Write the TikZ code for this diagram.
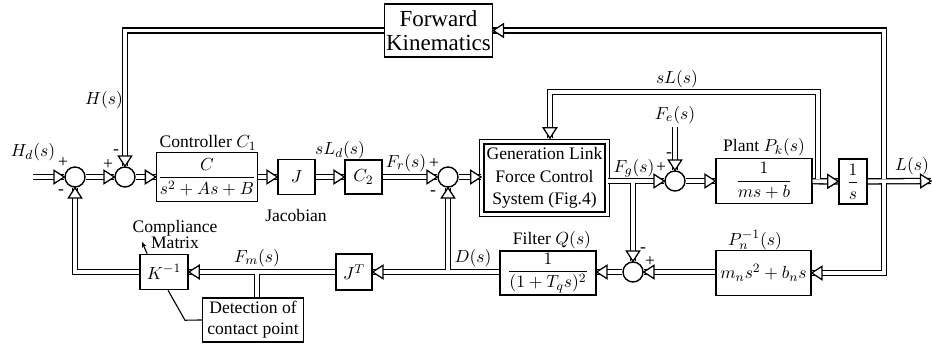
\documentclass[tikz,border=0pt]{standalone}
\usepackage{fontspec}
\setmainfont{Liberation Serif}
\usetikzlibrary{arrows.meta,decorations.markings}

\begin{document}
\begin{tikzpicture}[x=0.022cm, y=-0.022cm, font=\fontsize{11pt}{13pt}\selectfont]
  \tikzstyle{block}=[rectangle, draw, line width=0.9pt, inner sep=1pt, fill=white]
  \tikzstyle{sum}=[circle, draw, line width=0.9pt, minimum size=0.44cm, inner sep=0pt]
  \tikzstyle{lbl}=[inner sep=1pt]
  \tikzstyle{sig}=[postaction={draw, double, double distance=2.4pt, line width=0.8pt},
    postaction={decorate, decoration={markings, mark=at position 1 with
      {\draw[line width=0.8pt, fill=white] (0,0) -- (-6.5pt,4.2pt) -- (-6.5pt,-4.2pt) -- cycle;}}}]
  \tikzstyle{pipe}=[draw, double, double distance=2.4pt, line width=0.8pt]
  \tikzstyle{wire}=[draw, line width=0.7pt]

  \useasboundingbox (0,0) rectangle (932,347);

  \node[block, minimum width=2.35cm, minimum height=1.17cm, align=center, font=\Large] (fk) at (438.5,30.5) {Forward\\[-3pt]Kinematics};

  \node[sum] (s1) at (75,177) {};
  \node[sum] (s2) at (125,177) {};
  \node[block, minimum width=2.2cm, minimum height=1.08cm] (ctrl) at (207,177) {$\displaystyle\frac{C}{s^2+As+B}$};
  \node[block, minimum width=0.81cm, minimum height=0.77cm] (jac) at (296.5,177) {$J$};
  \node[block, minimum width=0.81cm, minimum height=0.74cm] (c2) at (363.5,177) {$C_2$};
  \node[sum] (s3) at (448,177) {};
  \node[block, double, double distance=2pt, minimum width=2.76cm, minimum height=1.6cm, align=center] (gen) at (544.5,178) {Generation Link\\[1pt]Force Control\\[1pt]System (Fig.4)};
  \node[sum] (s4) at (675,181) {};
  \node[block, minimum width=2.11cm, minimum height=0.99cm] (plant) at (764,181) {$\displaystyle\frac{1}{ms+b}$};
  \node[block, minimum width=0.62cm, minimum height=0.99cm, inner sep=0pt] (integ) at (853,181.5) {$\displaystyle\frac{1}{s}$};

  \node[block, minimum width=1.06cm, minimum height=0.77cm] (kinv) at (164,272) {$K^{-1}$};
  \node[block, minimum width=0.79cm, minimum height=0.79cm] (jt) at (354,272) {$J^T$};
  \node[block, minimum width=2.11cm, minimum height=0.97cm] (filt) at (548,273) {$\displaystyle\frac{1}{(1+T_q s)^2}$};
  \node[sum] (s5) at (633,272) {};
  \node[block, minimum width=2.09cm, minimum height=0.99cm] (pn) at (763.5,273) {$m_n s^2+b_n s$};
  \node[block, minimum width=2.22cm, minimum height=0.97cm, align=center] (det) at (253,320) {Detection of\\contact point};

  \node[lbl] (hdl) at (33,152) {$H_d(s)$};
  \node[lbl] (hl) at (104,100) {$H(s)$};
  \node[lbl] (p1) at (63,163) {+};
  \node[lbl] (m1) at (61,192) {-};
  \node[lbl] (p2) at (108,165) {+};
  \node[lbl] (m2) at (116,152) {-};
  \node[lbl] (ctrll) at (208,143) {Controller $C_1$};
  \node[lbl] (sldl) at (340,150) {$sL_d(s)$};
  \node[lbl] (jacl) at (296,215) {Jacobian};
  \node[lbl] (frl) at (406,163) {$F_r(s)$};
  \node[lbl] (p3) at (434,164) {+};
  \node[lbl] (m3) at (433,193) {-};
  \node[lbl] (fel) at (675,115) {$F_e(s)$};
  \node[lbl] (fgl) at (634,168) {$F_g(s)$};
  \node[lbl] (p4) at (661,168) {+};
  \node[lbl] (m4) at (669,155) {-};
  \node[lbl] (plantl) at (764,147) {Plant $P_k(s)$};
  \node[lbl] (sll) at (677,79) {$sL(s)$};
  \node[lbl] (ll) at (912,166) {$L(s)$};
  \node[lbl] (filtl) at (552,240) {Filter $Q(s)$};
  \node[lbl] (pnl) at (755,240) {$P_n^{-1}(s)$};
  \node[lbl] (m5) at (643,250) {-};
  \node[lbl] (p5) at (650,262) {+};
  \node[lbl] (dl) at (473,258) {$D(s)$};
  \node[lbl] (fml) at (257,258) {$F_m(s)$};
  \node[lbl, align=center] (cml) at (175,234.5) {Compliance\\[-3pt]Matrix};

  \coordinate (hdin) at (33,177);
  \coordinate (fein) at (675,127);
  \coordinate (lout) at (931,181);
  \coordinate (fgb) at (633,181);
  \coordinate (slb) at (818,181);
  \coordinate (outb) at (884,181);
  \coordinate (db) at (448,272);
  \coordinate (fmb) at (257,272);
  \coordinate (cmtip) at (142,242);

  \path[sig] (hdin) -- (s1);
  \path[sig] (s1) -- (s2);
  \path[sig] (s2) -- (ctrl);
  \path[sig] (ctrl) -- (jac);
  \path[sig] (jac) -- (c2);
  \path[sig] (c2) -- (s3);
  \path[sig] (s3) -- (s3 -| gen.west);
  \path[sig] (gen.east |- s4) -- (s4);
  \path[sig] (fein) -- (s4);
  \path[sig] (s4) -- (plant);
  \path[sig] (plant) -- (integ);
  \path[sig] (integ) -- (lout);
  \path[sig] (pn.west |- s5) -- (s5);
  \path[sig] (s5) -- (filt.east |- s5);
  \path[sig] (filt.west |- jt) -- (jt);
  \path[sig] (jt) -- (kinv);
  \path[sig] (kinv.west) -| (s1);
  \path[sig] (fk.west) -| (s2);

  \path[sig] ([yshift=-1.2pt]fgb) -- (s5);
  \path[sig] ([yshift=1.2pt]slb) -- (818,92) -| ([xshift=3.4pt, yshift=1.7pt]gen.north);
  \path[sig] ([yshift=1.2pt]outb) |- (fk.east);
  \path[sig] ([yshift=-1.2pt]outb) |- (pn.east);
  \path[sig] ([yshift=1.2pt]db) -- (s3);
  \path[pipe] ([yshift=-1.2pt]fmb) -- (fmb |- det.north);
  \draw[wire, -{Stealth[length=3.5pt, width=3pt]}] ([xshift=5pt]kinv.north west) -- (cmtip);
  \draw[wire] ([xshift=2.5pt]kinv.south) -- ++(17,30) -- (det.west);
\end{tikzpicture}
\end{document}
